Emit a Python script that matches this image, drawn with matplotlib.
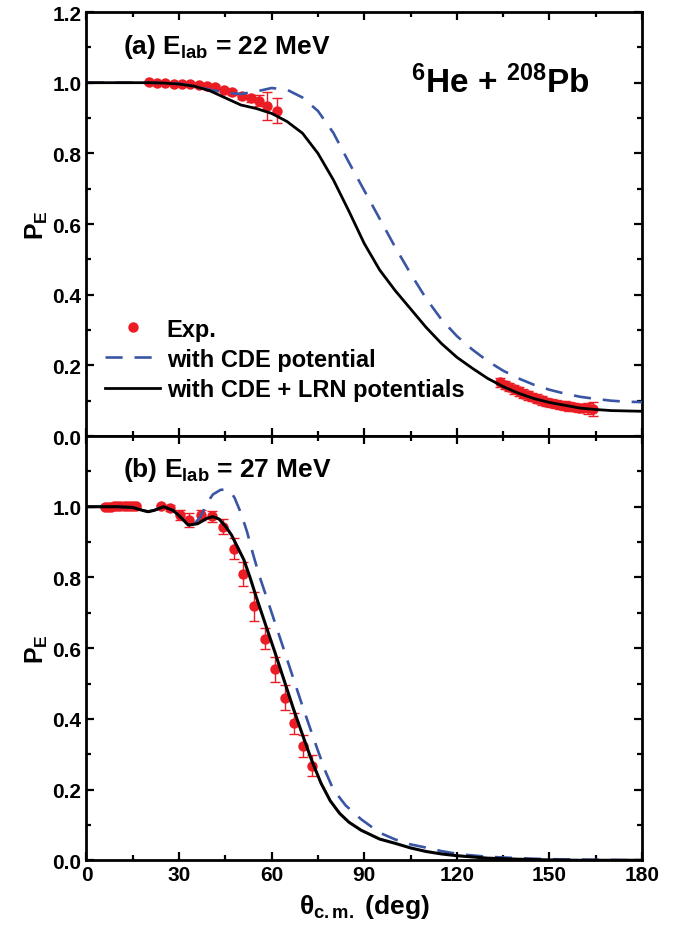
import numpy as np
import matplotlib
matplotlib.use("Agg")
import matplotlib.pyplot as plt

plt.rcParams["font.family"] = ["Liberation Sans", "DejaVu Sans"]
plt.rcParams["font.weight"] = "bold"
plt.rcParams["axes.labelweight"] = "bold"
plt.rcParams["mathtext.fontset"] = "custom"
plt.rcParams["mathtext.rm"] = "Liberation Sans:bold"
plt.rcParams["mathtext.it"] = "Liberation Sans:bold"
plt.rcParams["mathtext.bf"] = "Liberation Sans:bold"

############################ (a) 22 MeV ############################
theta_a = [0, 10, 20, 25, 30, 35, 40, 45, 50, 55, 60, 65, 70, 75, 80, 85, 90, 95, 100,
           105, 110, 115, 120, 125, 130, 135, 140, 145, 150, 155, 160, 165, 170, 175, 180]
lrn_a = [1.0, 1.0, 1.0, 0.999, 0.996, 0.99, 0.977, 0.957, 0.937, 0.927, 0.913, 0.89,
         0.857, 0.8, 0.725, 0.637, 0.545, 0.47, 0.412, 0.36, 0.308, 0.262, 0.223, 0.192,
         0.163, 0.14, 0.121, 0.106, 0.095, 0.087, 0.079, 0.075, 0.072, 0.071, 0.07]
cde_a = [1.0, 1.0, 1.0, 0.999, 0.997, 0.99, 0.98, 0.972, 0.968, 0.975, 0.985, 0.98,
         0.958, 0.92, 0.858, 0.775, 0.695, 0.615, 0.535, 0.46, 0.39, 0.33, 0.283, 0.245,
         0.212, 0.185, 0.163, 0.145, 0.131, 0.12, 0.111, 0.105, 0.1, 0.097, 0.096]

exp_theta_a = [20.2, 22.9, 25.6, 28.3, 31.0, 33.7, 36.4, 39.1, 41.8, 44.5, 47.3, 50.5,
               53.2, 55.9, 58.6, 61.6,
               134, 135.5, 137, 138.5, 140, 141.5, 143, 144.5, 146, 147.5, 149, 150.5,
               152, 153.5, 155, 156.5, 158, 159.5, 161, 162.5, 164]
exp_pe_a = [1.001, 0.999, 0.998, 0.997, 0.996, 0.995, 0.993, 0.991, 0.987, 0.98, 0.973,
            0.963, 0.956, 0.949, 0.935, 0.921,
            0.152, 0.145, 0.138, 0.132, 0.126, 0.12, 0.115, 0.11, 0.106, 0.101, 0.097,
            0.094, 0.091, 0.088, 0.086, 0.084, 0.082, 0.08, 0.079, 0.078, 0.077]
exp_err_a = [0.004, 0.004, 0.004, 0.004, 0.004, 0.004, 0.005, 0.005, 0.006, 0.006, 0.007,
             0.008, 0.01, 0.015, 0.04, 0.035,
             0.012, 0.012, 0.012, 0.012, 0.012, 0.012, 0.012, 0.012, 0.012, 0.012, 0.012,
             0.012, 0.012, 0.012, 0.012, 0.012, 0.012, 0.012, 0.012, 0.015, 0.02]

############################ (b) 27 MeV ############################
theta_b_lrn = [0, 5, 10, 15, 18, 20, 22, 25, 28, 30, 33, 36, 39, 41, 43, 45, 47, 49, 51,
               53, 55, 58, 61, 64, 67, 70, 73, 76, 79, 82, 85, 89, 95, 100, 105, 110, 115,
               120, 130, 140, 150, 160, 170, 180]
lrn_b = [1.0, 1.0, 1.0, 0.998, 0.99, 0.986, 0.99, 1.0, 0.99, 0.975, 0.948, 0.952, 0.967,
         0.972, 0.965, 0.945, 0.92, 0.885, 0.85, 0.8, 0.745, 0.667, 0.59, 0.51, 0.43,
         0.355, 0.282, 0.218, 0.168, 0.133, 0.108, 0.085, 0.06, 0.048, 0.035, 0.025, 0.018,
         0.013, 0.006, 0.003, 0.001, 0.0, 0.0, 0.0]
theta_b_cde = [0, 10, 15, 18, 20, 22, 25, 28, 30, 33, 35, 37, 39, 41, 43.5, 45, 46.7, 48,
               50, 52, 54, 56, 58, 61, 64, 67, 70, 73, 75, 77.5, 80, 84, 89, 95, 100, 105,
               110, 115, 121, 130, 140, 150, 160, 170, 180]
cde_b = [1.0, 1.0, 0.998, 0.99, 0.986, 0.99, 1.0, 0.99, 0.975, 0.95, 0.952, 0.972, 1.01,
         1.035, 1.048, 1.048, 1.043, 1.025, 0.983, 0.93, 0.865, 0.805, 0.753, 0.674,
         0.595, 0.515, 0.436, 0.36, 0.31, 0.25, 0.2, 0.155, 0.116, 0.078, 0.059, 0.045,
         0.036, 0.026, 0.017, 0.01, 0.006, 0.003, 0.002, 0.001, 0.0]

exp_theta_b = [6, 7, 8, 9, 10, 11, 12, 13, 14, 15, 16, 24, 27.2, 30.3, 33.2, 37.2, 40.8,
               44.3, 47.8, 50.8, 54.3, 57.7, 61, 64.2, 67.2, 70.3, 73.2]
exp_pe_b = [1.0, 1.0, 1.0, 1.002, 1.002, 1.003, 1.003, 1.003, 1.002, 1.002, 1.001, 1.001,
            0.997, 0.977, 0.963, 0.977, 0.973, 0.944, 0.881, 0.81, 0.718, 0.627, 0.54,
            0.46, 0.387, 0.323, 0.268]
exp_err_b = [0.004, 0.004, 0.004, 0.004, 0.004, 0.004, 0.004, 0.004, 0.004, 0.004, 0.004,
             0.005, 0.008, 0.015, 0.02, 0.015, 0.015, 0.02, 0.03, 0.035, 0.04, 0.03,
             0.035, 0.035, 0.03, 0.03, 0.03]

red = "#ec1c24"
blue = "#3a55a4"
dash = (0, (6.5, 4.5))


def style_axis(ax):
    ax.set_xlim(0, 180)
    ax.set_ylim(0, 1.2)
    ax.set_xticks(range(0, 181, 30))
    ax.set_xticks(range(15, 180, 30), minor=True)
    ax.set_yticks(np.arange(0.1, 1.2, 0.2), minor=True)
    ax.tick_params(which="both", direction="in", top=True, right=True, width=1.6,
                   labelsize=15)
    ax.tick_params(which="major", length=6)
    ax.tick_params(which="minor", length=3.5)
    for s in ax.spines.values():
        s.set_linewidth(2)
    ax.set_ylabel(r"P$_{E}$", fontsize=18, labelpad=2)


def plot_exp(ax, x, y, err):
    ax.errorbar(x, y, yerr=err, fmt="o", color=red, ms=7.5, mec="none", ecolor=red,
                elinewidth=1, capsize=3.5, capthick=1, zorder=2)


fig = plt.figure(figsize=(6.88, 9.37), dpi=100)
ax1 = fig.add_axes([0.1257, 0.5336, 0.8074, 0.4525])
ax2 = fig.add_axes([0.1257, 0.0808, 0.8074, 0.4528])

# top panel
plot_exp(ax1, exp_theta_a, exp_pe_a, exp_err_a)
ax1.plot([], [], "o", color=red, ms=7.5, mec="none", label="Exp.")
ax1.plot(theta_a, cde_a, color=blue, lw=1.9, linestyle=dash, label="with CDE potential",
         zorder=3)
ax1.plot(theta_a, lrn_a, color="black", lw=2.0, label="with CDE + LRN potentials",
         zorder=4)
style_axis(ax1)
ax1.set_yticks(np.arange(0, 1.21, 0.2))
ax1.set_yticklabels(["%.1f" % v for v in np.arange(0, 1.21, 0.2)])
ax1.tick_params(labelbottom=False)
ax1.text(0.066, 0.92, r"(a) E$_{lab}$ = 22 MeV", transform=ax1.transAxes, fontsize=19,
         va="center", ha="left")
ax1.text(0.745, 0.835, r"$^{6}$He + $^{208}$Pb", transform=ax1.transAxes, fontsize=24,
         va="center", ha="center")
ax1.legend(loc="lower left", bbox_to_anchor=(0.034, 0.083), frameon=False, fontsize=17,
           handlelength=2.3, handletextpad=0.3, labelspacing=0.3, borderpad=0,
           borderaxespad=0)

# bottom panel
plot_exp(ax2, exp_theta_b, exp_pe_b, exp_err_b)
ax2.plot(theta_b_cde, cde_b, color=blue, lw=1.9, linestyle=dash, zorder=3)
ax2.plot(theta_b_lrn, lrn_b, color="black", lw=2.2, zorder=4)
style_axis(ax2)
ax2.set_yticks(np.arange(0, 1.01, 0.2))
ax2.set_yticklabels(["%.1f" % v for v in np.arange(0, 1.01, 0.2)])
ax2.text(0.066, 0.922, r"(b) E$_{lab}$ = 27 MeV", transform=ax2.transAxes, fontsize=19,
         va="center", ha="left")
ax2.set_xlabel(r"$\theta_{c.m.}$ (deg)", fontsize=19, fontweight="bold", labelpad=6)

fig.savefig("out.png", dpi=100)
